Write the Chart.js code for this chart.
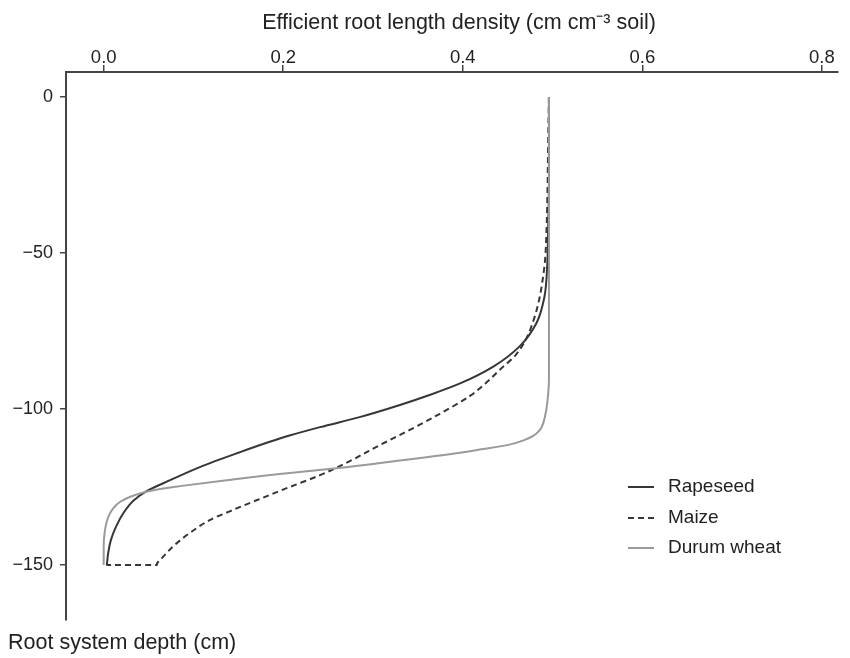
<!DOCTYPE html>
<html>
<head>
<meta charset="utf-8">
<script src="https://cdn.jsdelivr.net/npm/chart.js@4"></script>
<style>
  html, body { margin: 0; padding: 0; background: #fff; }
  #wrap { width: 850px; height: 658px; position: relative; }
</style>
</head>
<body>
<div id="wrap"><canvas id="rootChart"></canvas></div>
<script>
// values (x = density, y = depth in cm)
const seriesNames = ['Rapeseed', 'Maize', 'Durum wheat'];
const xTickValues = [0, 0.2, 0.4, 0.6, 0.8];
const yTickValues = [0, -50, -100, -150];

const rapeseedX = [0.496, 0.496, 0.495, 0.494, 0.491, 0.482, 0.463, 0.434, 0.397, 0.363, 0.330, 0.285, 0.241, 0.207, 0.185, 0.152, 0.107, 0.074, 0.046, 0.033, 0.022, 0.014, 0.008, 0.005, 0.0035];
const rapeseedY = [0, -26.6, -43.6, -54.4, -64.0, -72.5, -80.0, -86.4, -91.8, -95.5, -98.7, -102.6, -105.8, -108.5, -110.5, -113.8, -118.6, -122.8, -126.6, -129.4, -133.3, -137.5, -142.0, -146.2, -150];

const maizeX = [0.496, 0.495, 0.4944, 0.4933, 0.4917, 0.4889, 0.485, 0.4789, 0.470, 0.4589, 0.441, 0.4255, 0.408, 0.374, 0.341, 0.308, 0.274, 0.241, 0.207, 0.174, 0.141, 0.118, 0.096, 0.080, 0.066, 0.059, 0.003];
const maizeY = [0, -17, -29.8, -42.6, -52.2, -58.7, -65.1, -71.5, -77.9, -82.7, -87.5, -91.7, -95.8, -101.6, -106.7, -111.5, -116.7, -121.2, -125.0, -128.8, -132.7, -135.6, -139.7, -143.3, -147.4, -150, -150];

const durumX = [0.496, 0.496, 0.495, 0.493, 0.490, 0.486, 0.478, 0.469, 0.452, 0.419, 0.397, 0.330, 0.259, 0.196, 0.137, 0.085, 0.063, 0.046, 0.029, 0.018, 0.011, 0.006, 0.003, 0.001, 0.0, 0.0];
const durumY = [0, -90.7, -95.5, -100.3, -104.2, -106.7, -108.7, -109.9, -111.4, -113.0, -114.0, -116.5, -119.0, -120.8, -122.8, -124.7, -125.6, -126.6, -128.2, -129.8, -131.7, -134.0, -136.5, -139.7, -143.6, -150];

const seriesColors = ['#363636', '#363636', '#9a9a9a'];
const seriesDash = [[], [6, 4], []];

function toPoints(xs, ys) {
    return xs.map((x, i) => ({ x: x, y: ys[i] }));
}

const FONT = "'Liberation Sans', Arial, Helvetica, sans-serif";
const TEXT = '#222';
const AXIS = '#444';

// axis captions + legend, drawn on the canvas after the chart
const extrasPlugin = {
    id: 'extras',
    afterDraw(chart) {
        const ctx = chart.ctx;
        ctx.save();
        ctx.fillStyle = TEXT;
        ctx.textBaseline = 'middle';

        ctx.font = '21.5px ' + FONT;
        ctx.textAlign = 'center';
        ctx.fillText('Efficient root length density (cm cm\u207B\u00B3 soil)', 459, 23);

        ctx.textAlign = 'left';
        ctx.fillText('Root system depth (cm)', 8, 643);

        ctx.font = '19px ' + FONT;
        const rows = [487, 518, 548];
        seriesNames.forEach((name, i) => {
            ctx.strokeStyle = seriesColors[i];
            ctx.lineWidth = 2;
            ctx.setLineDash(seriesDash[i]);
            ctx.beginPath();
            ctx.moveTo(628, rows[i]);
            ctx.lineTo(654, rows[i]);
            ctx.stroke();
            ctx.setLineDash([]);
            ctx.fillText(name, 668, rows[i]);
        });
        ctx.restore();
    }
};

const datasets = [
    { label: seriesNames[2], data: toPoints(durumX, durumY), order: 0 },
    { label: seriesNames[1], data: toPoints(maizeX, maizeY), order: 1 },
    { label: seriesNames[0], data: toPoints(rapeseedX, rapeseedY), order: 2 }
].map(ds => {
    const i = seriesNames.indexOf(ds.label);
    return Object.assign(ds, {
        borderColor: seriesColors[i],
        borderDash: seriesDash[i],
        borderWidth: 2,
        pointRadius: 0,
        cubicInterpolationMode: 'monotone',
        fill: false
    });
});

new Chart(document.getElementById('rootChart'), {
    type: 'line',
    data: { datasets: datasets },
    options: {
        indexAxis: 'y',
        responsive: true,
        maintainAspectRatio: false,
        animation: false,
        layout: { padding: { top: 0, left: 0, right: 12, bottom: 38 } },
        plugins: { legend: { display: false }, tooltip: { enabled: false } },
        scales: {
            x: {
                type: 'linear',
                position: 'top',
                min: -0.042,
                max: 0.818,
                afterBuildTicks: (scale) => { scale.ticks = xTickValues.map(v => ({ value: v })); },
                afterFit: (scale) => { scale.height = 72; },
                ticks: {
                    color: TEXT,
                    font: { family: FONT, size: 18.5 },
                    padding: -4,
                    maxRotation: 0,
                    callback: (v) => Number(v).toFixed(1)
                },
                grid: { display: true, drawOnChartArea: false, drawTicks: true, tickLength: 7, color: AXIS, lineWidth: 1.5 },
                border: { display: true, color: AXIS, width: 2 }
            },
            y: {
                type: 'linear',
                position: 'left',
                min: -167.6,
                max: 8,
                afterBuildTicks: (scale) => { scale.ticks = yTickValues.map(v => ({ value: v })); },
                afterFit: (scale) => { scale.width = 66; },
                ticks: {
                    color: TEXT,
                    font: { family: FONT, size: 18 },
                    padding: 7,
                    callback: (v) => v < 0 ? '\u2212' + Math.abs(v) : String(v)
                },
                grid: { display: true, drawOnChartArea: false, drawTicks: true, tickLength: 6, color: AXIS, lineWidth: 1.5 },
                border: { display: true, color: AXIS, width: 2 }
            }
        }
    },
    plugins: [extrasPlugin]
});
</script>
</body>
</html>
